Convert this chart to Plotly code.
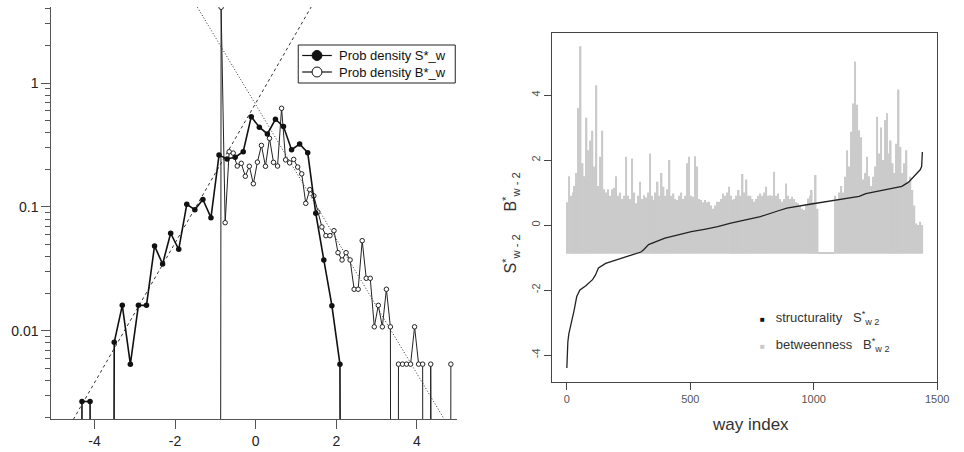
import plotly.graph_objects as go

# ---------------- Left panel: probability densities (log y) ----------------
S_x = [-4.51, -4.31, -4.11, -3.91, -3.71, -3.51, -3.31, -3.11, -2.91, -2.71,
       -2.51, -2.31, -2.11, -1.91, -1.71, -1.51, -1.31, -1.11, -0.91, -0.71,
       -0.51, -0.31, -0.11, 0.09, 0.29, 0.49, 0.69, 0.89, 1.09, 1.29,
       1.49, 1.69, 1.89, 2.09, 2.29]
S_density = [0, 0.0027, 0.0027, 0, 0, 0.0081, 0.0161, 0.0054, 0.0161, 0.0161,
             0.0485, 0.0347, 0.0614, 0.0456, 0.105, 0.095, 0.115, 0.082, 0.262, 0.244,
             0.252, 0.279, 0.535, 0.44, 0.388, 0.51, 0.445, 0.29, 0.322, 0.274,
             0.089, 0.0374, 0.016, 0.0054, 0]

B_x = [-0.958, -0.858, -0.758, -0.658, -0.558, -0.458, -0.358, -0.258, -0.158, -0.058,
       0.042, 0.142, 0.242, 0.342, 0.442, 0.542, 0.642, 0.742, 0.842, 0.942,
       1.042, 1.142, 1.242, 1.342, 1.442, 1.542, 1.642, 1.742, 1.842, 1.942,
       2.042, 2.142, 2.242, 2.342, 2.442, 2.542, 2.642, 2.742, 2.842, 2.942,
       3.042, 3.142, 3.242, 3.342, 3.442, 3.542, 3.642, 3.742, 3.842, 3.942,
       4.042, 4.142, 4.242, 4.342, 4.442, 4.542, 4.642, 4.742, 4.842]
B_density = [0, 4.08, 0.0747, 0.279, 0.272, 0.214, 0.225, 0.177, 0.213, 0.154,
             0.23, 0.314, 0.213, 0.358, 0.229, 0.214, 0.625, 0.24, 0.227, 0.242,
             0.21, 0.185, 0.107, 0.138, 0.123, 0.091, 0.069, 0.0587, 0.0587, 0.0644,
             0.0428, 0.0374, 0.0428, 0.0374, 0.0217, 0.0217, 0.0535, 0.0266, 0.0266, 0.0108,
             0.0161, 0.0108, 0.0217, 0.0108, 0, 0.0054, 0.0054, 0.0054, 0.0054, 0.0108,
             0.0054, 0.0054, 0, 0.0054, 0, 0, 0, 0, 0.0054]

# exponential-tail fit lines (end points in data space)
fit_rise_x = [-4.6, 1.5]
fit_rise_y = [0.001754, 4.82]
fit_fall_x = [-1.6, 4.8]
fit_fall_y = [4.94, 0.001667]

left_xticks = [-4, -2, 0, 2, 4]
left_xticklabels = ["-4", "-2", "0", "2", "4"]
left_yticks = [0.01, 0.1, 1]
left_yticklabels = ["0.01", "0.1", "1"]
left_minor = [0.002, 0.003, 0.004, 0.005, 0.006, 0.007, 0.008, 0.009,
              0.02, 0.03, 0.04, 0.05, 0.06, 0.07, 0.08, 0.09,
              0.2, 0.3, 0.4, 0.5, 0.6, 0.7, 0.8, 0.9, 2, 3, 4]
left_legend_labels = ["Prob density S*_w", "Prob density B*_w"]

# ---------------- Right panel: per-way values ----------------
bt_index = list(range(0, 1441, 8))
bt_values = [
    0.7, 1.5, 0.9, 1.0, 1.2, 1.6, 3.6, 5.5, 1.9, 1.5,
    3.3, 2.3, 2.6, 2.9, 1.8, 4.3, 1.2, 2.1, 2.9, 1.1,
    1.0, 1.1, 0.9, 1.1, 1.15, 1.5, 0.9, 1.0, 0.8, 0.9,
    2.1, 0.9, 0.8, 2.05, 1.0, 0.67, 0.9, 1.33, 0.8, 0.92,
    0.85, 1.0, 2.2, 0.9, 0.77, 1.0, 1.33, 0.9, 1.6, 1.18,
    0.9, 1.1, 2.0, 0.9, 0.97, 0.8, 0.77, 0.9, 1.0, 0.8,
    0.9, 1.9, 2.1, 0.9, 0.87, 2.12, 1.8, 0.8, 0.77, 0.7,
    0.77, 0.7, 0.72, 0.6, 0.5, 0.6, 0.72, 0.72, 0.8, 0.97,
    0.9, 1.0, 1.18, 0.9, 0.77, 0.8, 0.9, 1.08, 0.9, 1.57,
    1.0, 1.4, 0.9, 0.9, 0.8, 0.72, 0.8, 0.9, 0.97, 0.9,
    1.0, 1.18, 0.9, 0.92, 0.9, 1.64, 0.9, 0.97, 0.8, 0.72,
    0.8, 1.28, 0.9, 0.8, 0.87, 0.8, 0.7, 0.67, 0.6, 0.5,
    0.46, 0.6, 0.82, 0.9, 1.08, 0.7, 1.54, 0.5, -0.85, -0.85,
    -0.85, -0.85, -0.85, -0.85, -0.85, -0.85, 0.9, 0.8, 1.0, 1.2,
    1.0, 1.49, 2.3, 1.8, 2.87, 3.74, 5.03, 3.7, 2.92, 2.7,
    1.4, 1.6, 2.1, 1.5, 1.2, 1.49, 1.8, 3.33, 2.2, 3.0,
    2.0, 3.23, 3.44, 2.2, 2.6, 1.9, 1.6, 2.5, 4.17, 2.4,
    1.6, 1.9, 2.3, 1.3, 1.49, 1.08, 0.6, 0.05, 0.0, 0.1,
    0.0]
BT_MIN = -0.85

st_index = [0, 2, 4, 8, 12, 20, 30, 40, 53, 77, 104, 115, 128, 157, 211, 251, 300, 311,
            331, 371, 397, 451, 504, 557, 611, 664, 724, 784, 857, 891, 984, 1091, 1124,
            1157, 1184, 1211, 1231, 1304, 1357, 1384, 1404, 1417, 1431, 1437, 1440]
st_values = [-4.4, -3.9, -3.6, -3.35, -3.22, -2.9, -2.6, -2.2, -2.0, -1.87, -1.68, -1.55,
             -1.32, -1.18, -1.06, -0.95, -0.83, -0.76, -0.6, -0.47, -0.4, -0.3, -0.2,
             -0.13, -0.05, 0.06, 0.15, 0.26, 0.44, 0.52, 0.64, 0.77, 0.83, 0.86, 0.88,
             0.97, 1.0, 1.13, 1.19, 1.32, 1.48, 1.58, 1.7, 1.8, 2.25]

right_xticks = [0, 500, 1000, 1500]
right_yticks = [-4, -2, 0, 2, 4]
right_yticklabels = ["-4", "-2", "0", "2", "4"]

W, H = 964, 452
FLOOR = 1e-30  # stand-in for empty bins on the log axis (draws the drop lines)
FONT = "Liberation Sans, Arial, sans-serif"


def px_x(p):
    return p / W


def px_y(p):
    return 1 - p / H


fig = go.Figure()

# fit lines
fig.add_trace(go.Scatter(x=fit_rise_x, y=fit_rise_y, mode="lines", showlegend=False,
                         line=dict(color="#333", width=1, dash="3px,3px"), xaxis="x", yaxis="y"))
fig.add_trace(go.Scatter(x=fit_fall_x, y=fit_fall_y, mode="lines", showlegend=False,
                         line=dict(color="#333", width=1, dash="1px,2px"), xaxis="x", yaxis="y"))

# densities
fig.add_trace(go.Scatter(x=B_x, y=[v if v > 0 else FLOOR for v in B_density],
                         mode="lines+markers", showlegend=False,
                         line=dict(color="#222", width=1),
                         marker=dict(symbol="circle", size=4.5, color="white",
                                     line=dict(color="#222", width=1)),
                         xaxis="x", yaxis="y"))
fig.add_trace(go.Scatter(x=S_x, y=[v if v > 0 else FLOOR for v in S_density],
                         mode="lines+markers", showlegend=False,
                         line=dict(color="#111", width=1.6),
                         marker=dict(symbol="circle", size=5.5, color="#111"),
                         xaxis="x", yaxis="y"))

# right panel
fig.add_trace(go.Bar(x=bt_index, y=[v - BT_MIN + 0.03 for v in bt_values], base=BT_MIN - 0.03,
                     width=6, marker=dict(color="#cacaca", line=dict(width=0)),
                     showlegend=False, xaxis="x2", yaxis="y2"))
fig.add_trace(go.Scatter(x=st_index, y=st_values, mode="lines", showlegend=False,
                         line=dict(color="#222", width=1.3), xaxis="x2", yaxis="y2"))

axis_font = dict(family=FONT, size=14, color="#222")
small_font = dict(family=FONT, size=11, color="#555")

fig.update_layout(
    width=W, height=H,
    margin=dict(l=0, r=0, t=0, b=0),
    paper_bgcolor="white", plot_bgcolor="white",
    showlegend=False,
    xaxis=dict(domain=[px_x(52), px_x(463)], range=[-5.07, 5.0], anchor="y",
               tickmode="array", tickvals=left_xticks, ticktext=left_xticklabels,
               ticks="outside", ticklen=9, tickcolor="#555", tickwidth=1,
               showline=True, linecolor="#555", linewidth=1,
               showgrid=False, zeroline=False, tickfont=axis_font),
    yaxis=dict(domain=[px_y(419), px_y(7)], type="log", range=[-2.71, 0.613], anchor="x",
               tickmode="array", tickvals=left_yticks, ticktext=left_yticklabels,
               ticks="outside", ticklen=9, tickcolor="#555", tickwidth=1,
               minor=dict(tickmode="array", tickvals=left_minor, ticks="outside",
                          ticklen=5, tickcolor="#555", tickwidth=1, showgrid=False),
               showline=True, linecolor="#555", linewidth=1,
               showgrid=False, zeroline=False, tickfont=axis_font),
    xaxis2=dict(domain=[px_x(559), px_x(949)], range=[-60, 1500], anchor="y2",
                tickmode="array", tickvals=right_xticks,
                ticks="outside", ticklen=7, tickcolor="#444", tickwidth=1,
                showline=True, mirror=True, linecolor="#444", linewidth=1,
                showgrid=False, zeroline=False, tickfont=small_font),
    yaxis2=dict(domain=[px_y(382), px_y(33)], range=[-4.83, 5.91], anchor="x2",
                tickmode="array", tickvals=right_yticks, ticktext=right_yticklabels,
                tickangle=-90,
                ticks="outside", ticklen=7, tickcolor="#444", tickwidth=1,
                showline=True, mirror=True, linecolor="#444", linewidth=1,
                showgrid=False, zeroline=False, tickfont=small_font),
)

# ----- left legend (box, swatches, labels) -----
shapes = [dict(type="rect", xref="paper", yref="paper",
               x0=px_x(302), x1=px_x(461), y0=px_y(83), y1=px_y(45),
               line=dict(color="#222", width=1), fillcolor="white", layer="above")]
for row_y, fill in [(55.5, "#111"), (72, "white")]:
    shapes.append(dict(type="line", xref="paper", yref="paper",
                       x0=px_x(306), x1=px_x(336), y0=px_y(row_y), y1=px_y(row_y),
                       line=dict(color="#111", width=1.2), layer="above"))
    shapes.append(dict(type="circle", xref="paper", yref="paper",
                       x0=px_x(316), x1=px_x(326), y0=px_y(row_y + 5), y1=px_y(row_y - 5),
                       line=dict(color="#111", width=1), fillcolor=fill, layer="above"))
fig.update_layout(shapes=shapes)
for label, row_y in zip(left_legend_labels, [55.5, 72]):
    fig.add_annotation(text=label, x=px_x(341), y=px_y(row_y), xref="paper", yref="paper",
                       xanchor="left", yanchor="middle", showarrow=False,
                       font=dict(family=FONT, size=13, color="#111"))

# ----- right panel labels -----
lab_font = dict(family=FONT, size=16, color="#333")
fig.add_annotation(text="B<sup>*</sup><sub>w - 2</sub>", x=px_x(517), y=px_y(192),
                   xref="paper", yref="paper", showarrow=False, textangle=-90,
                   xanchor="center", yanchor="middle", font=lab_font)
fig.add_annotation(text="S<sup>*</sup><sub>w - 2</sub>", x=px_x(517), y=px_y(254),
                   xref="paper", yref="paper", showarrow=False, textangle=-90,
                   xanchor="center", yanchor="middle", font=lab_font)
fig.add_annotation(text="way index", x=px_x(760), y=px_y(424), xref="paper", yref="paper",
                   xanchor="center", yanchor="middle", showarrow=False,
                   font=dict(family=FONT, size=17, color="#333"))

leg_font = dict(family=FONT, size=13, color="#333")
fig.add_annotation(text="<span style='font-size:8px;color:#111'>■</span>   structurality   S<sup>*</sup><sub>w 2</sub>",
                   x=px_x(768), y=px_y(318), xref="paper", yref="paper", xanchor="left",
                   yanchor="middle", showarrow=False, font=leg_font)
fig.add_annotation(text="<span style='font-size:8px;color:#c8c8c8'>■</span>   betweenness   B<sup>*</sup><sub>w 2</sub>",
                   x=px_x(768), y=px_y(345), xref="paper", yref="paper", xanchor="left",
                   yanchor="middle", showarrow=False, font=leg_font)

fig.write_html("out.html")
